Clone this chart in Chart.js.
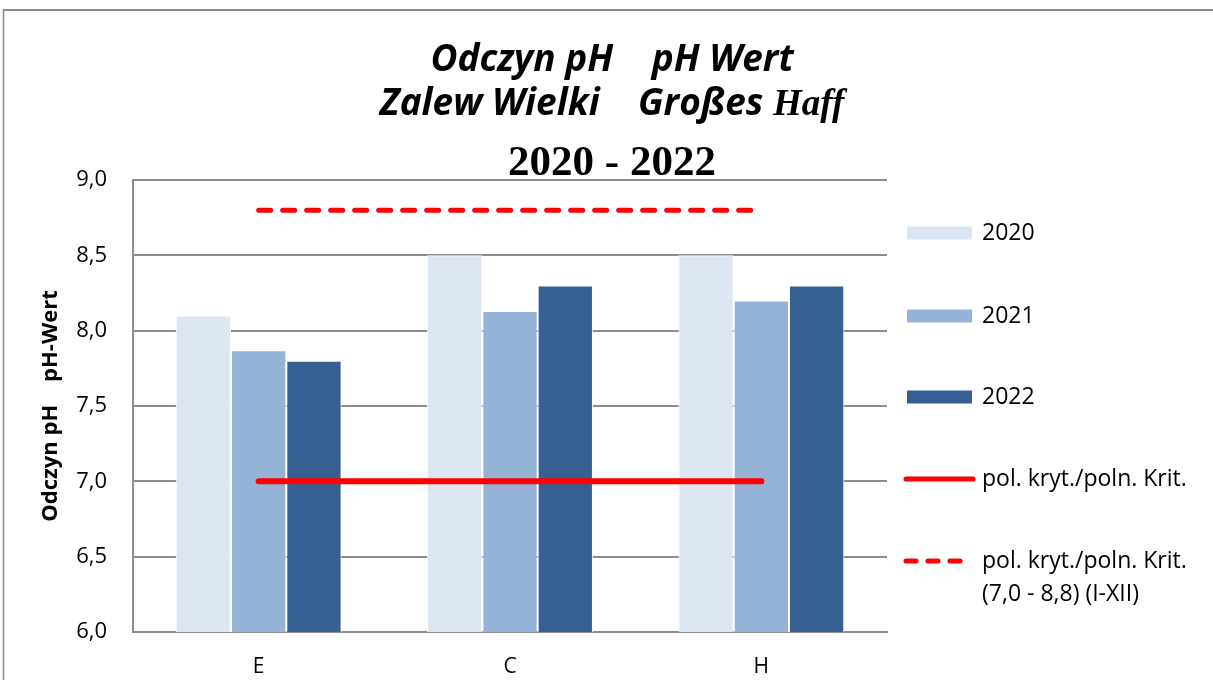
<!DOCTYPE html>
<html>
<head>
<meta charset="utf-8">
<script src="https://cdn.jsdelivr.net/npm/chart.js@4/dist/chart.umd.min.js"></script>
<style>
  body { margin: 0; background: #fff; }
  canvas { display: block; }
</style>
</head>
<body>
<canvas id="phChart" width="1213" height="680"></canvas>
<script>
// dane / data
const categories = ['E', 'C', 'H'];
const years = ['2020', '2021', '2022'];
const values2020 = [8.1, 8.5, 8.5];
const values2021 = [7.87, 8.13, 8.2];
const values2022 = [7.8, 8.3, 8.3];
const critLower = [7.0, 7.0, 7.0];
const critRange = [8.8, 8.8, 8.8];
const yTicks = [6.0, 6.5, 7.0, 7.5, 8.0, 8.5, 9.0];
const critLabel = 'pol. kryt./poln. Krit.';
const critRangeLabel = 'pol. kryt./poln. Krit.\n(7,0 - 8,8) (I-XII)';
const yTitle = 'Odczyn pH    pH-Wert';

const SANS = '"Open Sans", "Noto Sans", sans-serif';
const SERIF = '"Liberation Serif", "Times New Roman", serif';

// ----------------- TITLE + FRAME -----------------
const titleLines = [
  { y: 71, runs: [['Odczyn pH    pH Wert', 'italic bold 37px ' + SANS]] },
  { y: 115, runs: [['Zalew Wielki    Großes ', 'italic bold 37px ' + SANS], ['Haff', 'italic bold 37px ' + SERIF]] },
  { y: 175, runs: [['2020 - 2022', 'bold 43px ' + SERIF]] }
];

const framePlugin = {
  id: 'frame',
  beforeDraw(chart) {
    const ctx = chart.ctx;
    ctx.save();
    ctx.strokeStyle = '#8c8c8c';
    ctx.lineWidth = 2;
    ctx.beginPath();
    ctx.moveTo(3, 10);
    ctx.lineTo(chart.width, 10);
    ctx.stroke();
    ctx.lineWidth = 1.5;
    ctx.beginPath();
    ctx.moveTo(3.5, 10);
    ctx.lineTo(3.5, chart.height);
    ctx.stroke();
    ctx.restore();
  },
  afterDraw(chart) {
    const ctx = chart.ctx;
    const cx = 612;
    ctx.save();
    ctx.fillStyle = '#000';
    ctx.textBaseline = 'alphabetic';
    ctx.textAlign = 'left';
    titleLines.forEach(line => {
      let total = 0;
      line.runs.forEach(r => { ctx.font = r[1]; total += ctx.measureText(r[0]).width; });
      let x = cx - total / 2;
      line.runs.forEach(r => {
        ctx.font = r[1];
        ctx.fillText(r[0], x, line.y);
        x += ctx.measureText(r[0]).width;
      });
    });
    ctx.restore();
  }
};

// ----------------- LEGEND -----------------
const legendPlugin = {
  id: 'sideLegend',
  afterDraw(chart) {
    const ctx = chart.ctx;
    const rows = [233, 316, 397, 479, 561];
    ctx.save();
    ctx.font = '23px ' + SANS;
    ctx.fillStyle = '#000';
    ctx.textBaseline = 'middle';
    chart.data.datasets.forEach((ds, i) => {
      const y = rows[i];
      if (ds.type === 'line') {
        ctx.strokeStyle = ds.borderColor;
        ctx.lineWidth = 5;
        ctx.lineCap = 'round';
        ctx.setLineDash(ds.borderDash ? [10, 12] : []);
        ctx.beginPath();
        ctx.moveTo(906, y);
        ctx.lineTo(ds.borderDash ? 968 : 973, y);
        ctx.stroke();
        ctx.setLineDash([]);
      } else {
        ctx.fillStyle = ds.backgroundColor;
        ctx.fillRect(907, y - 6.5, 65, 13);
      }
      ctx.fillStyle = '#000';
      ds.label.split('\n').forEach((t, k) => ctx.fillText(t, 982, y + k * 33));
    });
    ctx.restore();
  }
};

const barStyle = { borderColor: '#ffffff', borderWidth: 1, order: 1, categoryPercentage: 0.66, barPercentage: 1.0 };

new Chart(document.getElementById('phChart'), {
  type: 'bar',
  data: {
    labels: categories,
    datasets: [
      { label: years[0], data: values2020, backgroundColor: '#dce6f2', ...barStyle },
      { label: years[1], data: values2021, backgroundColor: '#95b3d7', ...barStyle },
      { label: years[2], data: values2022, backgroundColor: '#376092', ...barStyle },
      { type: 'line', label: critLabel, data: critLower, borderColor: '#ff0000', borderWidth: 6,
        borderCapStyle: 'round', pointRadius: 0, fill: false, order: 0 },
      { type: 'line', label: critRangeLabel, data: critRange, borderColor: '#ff0000', borderWidth: 5,
        borderCapStyle: 'round', borderDash: [12, 12], pointRadius: 0, fill: false, order: 0 }
    ]
  },
  options: {
    responsive: false,
    devicePixelRatio: 1,
    animation: false,
    layout: { padding: { top: 180, right: 326, bottom: 0, left: 0 } },
    plugins: {
      legend: { display: false },
      title: { display: false },
      tooltip: { enabled: false }
    },
    scales: {
      x: {
        grid: { display: false, drawTicks: false },
        border: { display: true, color: '#8c8c8c', width: 2 },
        ticks: { color: '#000', font: { family: SANS, size: 21 }, padding: 22 },
        afterFit(scale) { scale.height = 48; }
      },
      y: {
        min: 6,
        max: 9,
        grid: { color: '#8c8c8c', lineWidth: 2, drawTicks: false },
        border: { display: true, color: '#8c8c8c', width: 2 },
        ticks: {
          color: '#000',
          font: { family: SANS, size: 22 },
          padding: 26,
          callback: v => v.toFixed(1).replace('.', ',')
        },
        afterBuildTicks(scale) { scale.ticks = yTicks.map(v => ({ value: v })); },
        title: {
          display: true,
          text: yTitle,
          color: '#000',
          font: { family: SANS, size: 22, weight: 'bold' },
          padding: { top: 38, bottom: 0 }
        },
        afterFit(scale) { scale.width = 133; }
      }
    }
  },
  plugins: [framePlugin, legendPlugin]
});
</script>
</body>
</html>
